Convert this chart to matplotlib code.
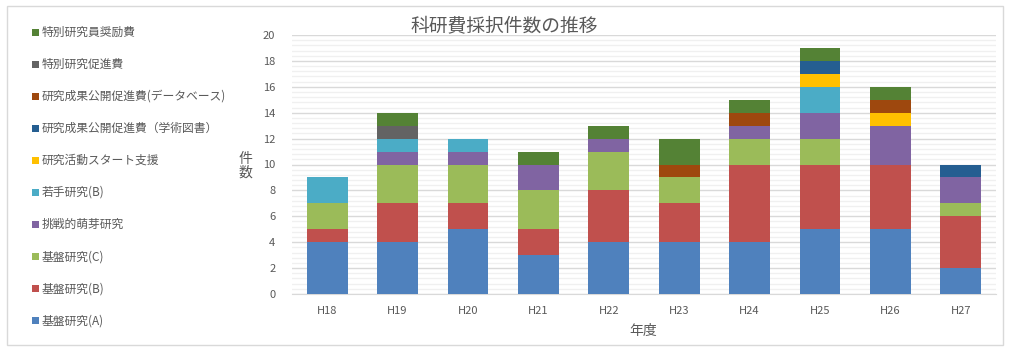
import matplotlib
matplotlib.use("Agg")
import matplotlib.pyplot as plt
from matplotlib.patches import Rectangle
from matplotlib.ticker import MultipleLocator
import numpy as np

plt.rcParams['font.family'] = ['Noto Sans CJK JP', 'DejaVu Sans']

years = ["H18", "H19", "H20", "H21", "H22", "H23", "H24", "H25", "H26", "H27"]

series_names = [
    "基盤研究(A)",
    "基盤研究(B)",
    "基盤研究(C)",
    "挑戦的萌芽研究",
    "若手研究(B)",
    "研究活動スタート支援",
    "研究成果公開促進費（学術図書）",
    "研究成果公開促進費(データベース)",
    "特別研究促進費",
    "特別研究員奨励費",
]

kiban_a   = [4, 4, 5, 3, 4, 4, 4, 5, 5, 2]
kiban_b   = [1, 3, 2, 2, 4, 3, 6, 5, 5, 4]
kiban_c   = [2, 3, 3, 3, 3, 2, 2, 2, 0, 1]
houga     = [0, 1, 1, 2, 1, 0, 1, 2, 3, 2]
wakate_b  = [2, 1, 1, 0, 0, 0, 0, 2, 0, 0]
start     = [0, 0, 0, 0, 0, 0, 0, 1, 1, 0]
tosho     = [0, 0, 0, 0, 0, 0, 0, 1, 0, 1]
database  = [0, 0, 0, 0, 0, 1, 1, 0, 1, 0]
sokushin  = [0, 1, 0, 0, 0, 0, 0, 0, 0, 0]
shoreihi  = [0, 1, 0, 1, 1, 2, 1, 1, 1, 0]

series_values = [kiban_a, kiban_b, kiban_c, houga, wakate_b, start, tosho,
                 database, sokushin, shoreihi]

colors = ["#4F81BD", "#C0504D", "#9BBB59", "#8064A2", "#4BACC6",
          "#FFC000", "#255E91", "#9E480E", "#636363", "#548235"]

W, H = 1011, 351
fig = plt.figure(figsize=(W / 100, H / 100), dpi=100)

# outer border
fig.add_artist(Rectangle((7 / W, 1 - 345 / H), (1003 - 7) / W, (345 - 6) / H,
                         transform=fig.transFigure, fill=False,
                         edgecolor="#D9D9D9", linewidth=1))

ax = fig.add_axes([292 / W, 1 - 294 / H, (996 - 292) / W, (294 - 35) / H])

x = np.arange(len(years))
bottom = np.zeros(len(years))
for name, vals, c in zip(series_names, series_values, colors):
    v = np.array(vals, dtype=float)
    ax.bar(x, v, bottom=bottom, width=0.58, color=c, label=name, zorder=3)
    bottom += v

ax.set_xlim(-0.5, len(years) - 0.5)
ax.set_ylim(0, 20)
ax.yaxis.set_major_locator(MultipleLocator(2))
ax.yaxis.set_minor_locator(MultipleLocator(0.4))
ax.grid(which="major", axis="y", color="#D9D9D9", linewidth=1, zorder=0)
ax.grid(which="minor", axis="y", color="#F0F0F0", linewidth=1, zorder=0)
ax.set_xticks(x)
ax.set_xticklabels(years)
for s in ["top", "right", "left"]:
    ax.spines[s].set_visible(False)
ax.spines["bottom"].set_color("#D9D9D9")
ax.tick_params(axis="both", which="both", length=0, colors="#595959", labelsize=8)
ax.tick_params(axis="y", pad=12)
ax.tick_params(axis="x", pad=9)

fig.text(504 / W, 1 - 27 / H, "科研費採択件数の推移", ha="center", va="center",
         fontsize=13.5, color="#595959")
fig.text(245 / W, 1 - 166 / H, "件\n数", ha="center", va="center",
         fontsize=10, color="#595959", linespacing=0.95)
fig.text(643 / W, 1 - 331 / H, "年度", ha="center", va="center",
         fontsize=10, color="#595959")

# legend (top = last series)
ys = [32 + 32.1 * i for i in range(10)]
for i, (name, c) in enumerate(zip(series_names[::-1], colors[::-1])):
    yc = ys[i]
    s = 7
    fig.add_artist(Rectangle(((35 - s / 2) / W, 1 - (yc + s / 2) / H), s / W, s / H,
                             transform=fig.transFigure, facecolor=c,
                             edgecolor="none"))
    fig.text(42 / W, 1 - yc / H, name, ha="left", va="center",
             fontsize=8.5, color="#595959")

fig.savefig("out.png", dpi=100)
